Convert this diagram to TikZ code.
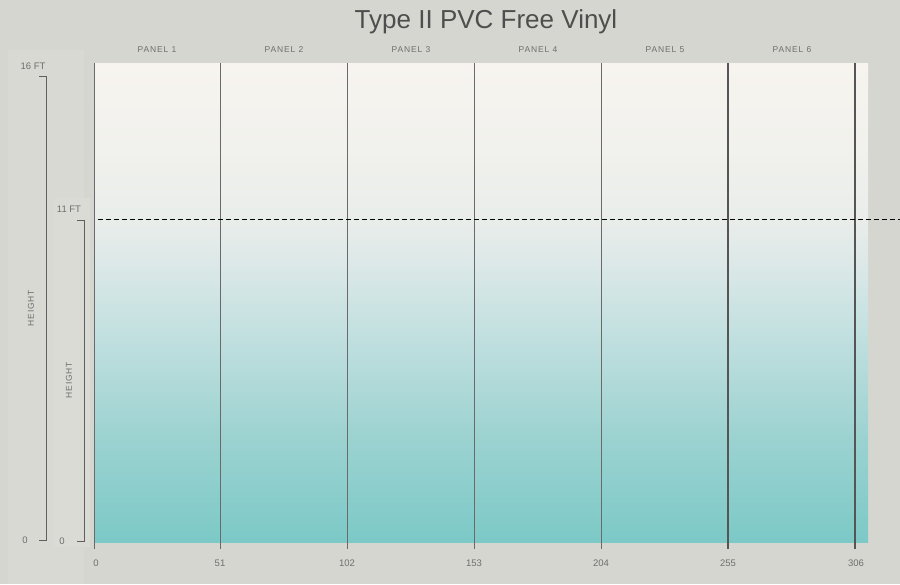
\documentclass[tikz,border=0pt]{standalone}
\usepackage{fontspec}
\setmainfont{Liberation Sans}
\newfontfamily\labfont[LetterSpace=10]{Liberation Sans}
\definecolor{bgc}{HTML}{D6D6D0}
\definecolor{boxa}{HTML}{D9D9D3}
\definecolor{boxb}{HTML}{DBDBD5}
\definecolor{txt}{HTML}{6E6E6E}
\definecolor{ttl}{HTML}{4E4E4E}
\definecolor{ln}{HTML}{6A6A6A}
\definecolor{w0}{HTML}{7CC9C7}
\definecolor{w1}{HTML}{9AD2D0}
\definecolor{w2}{HTML}{C3E0E0}
\definecolor{w3}{HTML}{DDE9E8}
\definecolor{w4}{HTML}{E9EDEA}
\definecolor{w5}{HTML}{F1F1ED}
\definecolor{w6}{HTML}{F7F4EF}
\pgfdeclareverticalshading{wallshade}{100bp}{color(0bp)=(w0); color(25bp)=(w0); color(35.5bp)=(w1); color(47bp)=(w2); color(54.5bp)=(w3); color(58.5bp)=(w4); color(66bp)=(w5); color(75bp)=(w6); color(100bp)=(w6)}
\tikzset{
  lab/.style={font=\labfont\fontsize{8.5}{9}\selectfont, text=txt, inner sep=0pt},
  num/.style={font=\fontsize{9.5}{10}\selectfont, text=txt, inner sep=0pt},
  seam/.style={draw=ln, line width=0.9pt},
  seamdark/.style={draw=ln!80!black, line width=1.4pt},
  bracket/.style={draw=ln!90!black, line width=1pt},
}
\begin{document}
\begin{tikzpicture}[x=1pt,y=-1pt]
\useasboundingbox (0,0) rectangle (900,584);
\fill[bgc] (0,0) rectangle (900,584);
% side boxes
\fill[boxa] (8,50) rectangle (84,584);
\fill[boxb] (54,198) rectangle (90,547);
% title
\node[font=\fontsize{26}{29}\selectfont, text=ttl] (title) at (486,22) {Type II PVC Free Vinyl};
% wall
\shade[shading=wallshade] (94,63) rectangle (868,542);
% seams
\foreach \i/\x in {0/94,1/220,2/347,3/474,4/601}{
  \coordinate (t\i) at (\x,63);
  \coordinate (b\i) at (\x,549);
  \draw[seam] (t\i) -- (b\i);
}
\foreach \i/\x in {5/728,6/855}{
  \coordinate (t\i) at (\x,63);
  \coordinate (b\i) at (\x,549);
  \draw[seamdark] (t\i) -- (b\i);
}
% dashed 11 ft line
\coordinate (d0) at (98,219);
\coordinate (d1) at (900,219);
\draw[black, line width=1pt, dash pattern=on 5pt off 3pt] (d0) -- (d1);
% panel labels
\foreach \n/\x in {1/157,2/284,3/411,4/538,5/665,6/792}{
  \node[lab] (p\n) at (\x,50) {PANEL \n};
}
% bottom numbers
\foreach \v/\x in {0/96,51/220,102/347,153/474,204/601,255/728,306/856}{
  \node[num] (n\v) at (\x,563) {\v};
}
% left scale 16 ft
\coordinate (a1) at (39,76);
\coordinate (a2) at (46,76);
\coordinate (a3) at (46,540);
\coordinate (a4) at (39,540);
\draw[bracket] (a1) -- (a2) -- (a3) -- (a4);
\node[num] (l16) at (33,66) {16 FT};
\node[num] (l0a) at (25,540) {0};
\node[lab, rotate=90] (h1) at (31,308) {HEIGHT};
% inner scale 11 ft
\coordinate (c1) at (77,220);
\coordinate (c2) at (84,220);
\coordinate (c3) at (84,541);
\coordinate (c4) at (77,541);
\draw[bracket] (c1) -- (c2) -- (c3) -- (c4);
\node[num] (l11) at (69,209) {11 FT};
\node[num] (l0b) at (62,541) {0};
\node[lab, rotate=90] (h2) at (69,380) {HEIGHT};
\end{tikzpicture}
\end{document}
